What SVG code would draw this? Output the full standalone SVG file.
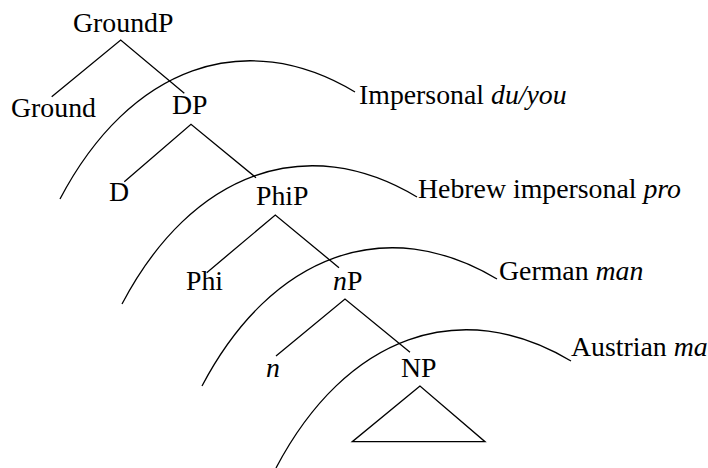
<svg xmlns="http://www.w3.org/2000/svg" xmlns:xlink="http://www.w3.org/1999/xlink" width="708" height="468" viewBox="0 0 708 468">
<style>
  .t { font-family: 'Liberation Serif', 'Times New Roman', Times, serif; font-size: 27.8px; fill: #000; }
  .it { font-style: italic; }
  .ln { fill: none; stroke: #000; stroke-width: 1.3; }
</style>
<defs>
  <path id="arc" class="ln" d="M0,0 C70,-133 185,-173 295,-107"/>
</defs>
<rect width="708" height="468" fill="#fff"/>
<g id="connectors">
  <path class="ln" d="M51.7,96.7 L120.7,40 L184.3,93.3"/>
  <path class="ln" d="M124.3,181.7 L191,124.3 L256,177.7"/>
  <path class="ln" d="M206.7,272.7 L275.3,215 L339,267.7"/>
  <path class="ln" d="M276,356 L345,299 L410,352.3"/>
  <path class="ln" d="M420,386 L352.3,441.7 L485,441.7 Z"/>
</g>
<g id="arcs">
  <use xlink:href="#arc" transform="translate(60,199)"/>
  <use xlink:href="#arc" transform="translate(122,304)"/>
  <use xlink:href="#arc" transform="translate(202,386)"/>
  <use xlink:href="#arc" transform="translate(276,468)"/>
</g>
<g class="t" font-family="Liberation Serif, serif">
<g id="node-GroundP"><text x="73" y="32">GroundP</text></g>
<g id="node-Ground"><text x="11" y="117">Ground</text></g>
<g id="node-DP"><text x="172" y="114">DP</text></g>
<g id="node-D"><text x="109" y="201">D</text></g>
<g id="node-PhiP"><text x="256" y="205">PhiP</text></g>
<g id="node-Phi"><text x="186" y="290">Phi</text></g>
<g id="node-nP"><text x="333" y="290"><tspan class="it">n</tspan>P</text></g>
<g id="node-n"><text x="266" y="377" class="it">n</text></g>
<g id="node-NP"><text x="401" y="377">NP</text></g>
<g id="label-impersonal"><text x="359" y="104">Impersonal <tspan class="it">du/you</tspan></text></g>
<g id="label-hebrew"><text x="418" y="198">Hebrew impersonal <tspan class="it">pro</tspan></text></g>
<g id="label-german"><text x="499" y="280">German <tspan class="it">man</tspan></text></g>
<g id="label-austrian"><text x="571" y="356">Austrian <tspan class="it">ma</tspan></text></g>
</g>
</svg>
